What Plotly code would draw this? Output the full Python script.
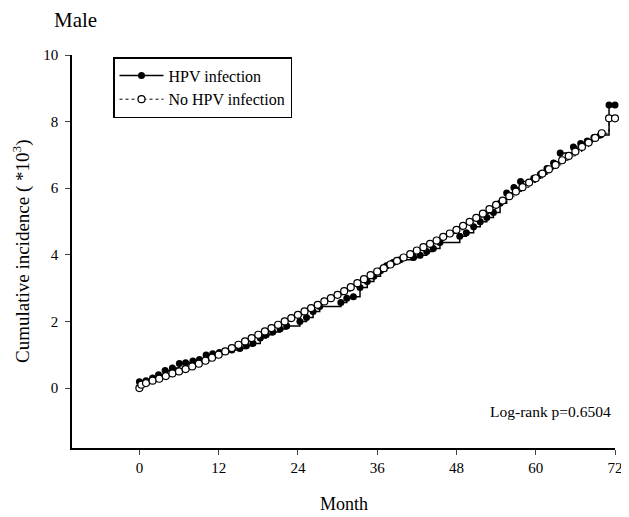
import plotly.graph_objects as go

# HPV infection (event times, cumulative incidence *10^3)
hpv_month = [0, 1, 2, 2.9, 3.9, 5, 6.05, 7, 8.1, 9.1, 10.1, 11.1, 12.1, 13, 14,
             15.2, 16.2, 17.2, 18.3, 19.2, 20.2, 21.3, 22.3, 24.3, 25.3, 26.3, 27.3,
             30.5, 31.4, 32.4, 33.4, 34.5, 35.5, 36.5, 37.4, 38.4, 39.5, 41.5, 42.5,
             43.5, 44.5, 45.5, 48.5, 49.5, 50.6, 51.6, 52.6, 53.6, 54.6, 55.6, 56.7,
             57.7, 59.7, 60.7, 61.7, 62.7, 63.7, 65.7, 66.8, 67.8, 68.8, 69.8, 71.1, 72]
hpv_value = [0.19, 0.22, 0.3, 0.4, 0.53, 0.6, 0.74, 0.76, 0.81, 0.86, 0.99, 1.03, 1.07, 1.1, 1.14,
             1.19, 1.27, 1.34, 1.5, 1.6, 1.68, 1.77, 1.86, 2.0, 2.12, 2.3, 2.45,
             2.57, 2.7, 2.74, 3.02, 3.2, 3.36, 3.52, 3.67, 3.77, 3.85, 3.92, 3.99,
             4.1, 4.19, 4.37, 4.56, 4.66, 4.84, 4.99, 5.12, 5.27, 5.55, 5.86, 6.02,
             6.2, 6.3, 6.42, 6.59, 6.76, 7.06, 7.24, 7.34, 7.42, 7.52, 7.6, 8.5, 8.5]

# No HPV infection
nohpv_month = [0, 0.3, 1, 2, 3, 4, 5, 6, 7, 8, 9, 10, 11, 12, 13, 14, 15, 16, 17, 18, 19, 20,
               21, 22, 23, 24, 25, 26, 27, 28, 29, 30, 31, 32, 33, 34, 35, 36, 37, 38, 39,
               40, 41, 42, 43, 44, 45, 46, 47, 48, 49, 50, 51, 52, 53, 54, 55, 56, 57, 58,
               59, 60, 61, 62, 63, 64, 65, 66, 67, 68, 69, 70, 71.1, 72]
nohpv_value = [0.0, 0.1, 0.15, 0.22, 0.28, 0.36, 0.44, 0.5, 0.57, 0.65, 0.73, 0.82, 0.91, 1.0,
               1.1, 1.2, 1.3, 1.4, 1.5, 1.6, 1.7, 1.8, 1.9, 2.0, 2.1, 2.2, 2.3, 2.4, 2.5,
               2.6, 2.7, 2.8, 2.91, 3.03, 3.15, 3.27, 3.39, 3.5, 3.6, 3.71, 3.82, 3.92,
               4.02, 4.13, 4.23, 4.33, 4.43, 4.54, 4.64, 4.75, 4.87, 4.99, 5.11, 5.24,
               5.37, 5.5, 5.63, 5.76, 5.9, 6.03, 6.17, 6.3, 6.44, 6.57, 6.7, 6.84, 6.97,
               7.1, 7.24, 7.37, 7.51, 7.65, 8.1, 8.1]

x_ticks = [0, 12, 24, 36, 48, 60, 72]
y_ticks = [0, 2, 4, 6, 8, 10]

FONT = "Liberation Serif"
OFF = 8  # page body margin
W, H = 629, 517
# plot area in screen pixels: x 72..615, y 55..448
L, T = 72 - OFF, 55 - OFF
R, B = W - (615 - OFF), H - (448 - OFF)
PW, PH = W - L - R, H - T - B

def px_x(p):
    return (p - OFF - L) / PW

def px_y(p):
    return 1 - (p - OFF - T) / PH

fig = go.Figure()
fig.add_trace(go.Scatter(
    x=hpv_month, y=hpv_value, mode="lines+markers", name="HPV infection",
    line=dict(color="black", width=1.5, shape="hv"),
    marker=dict(symbol="circle", size=7, color="black"),
    cliponaxis=False,
))
fig.add_trace(go.Scatter(
    x=nohpv_month, y=nohpv_value, mode="lines+markers", name="No HPV infection",
    line=dict(color="black", width=1, shape="hv", dash="dot"),
    marker=dict(symbol="circle", size=7, color="white", line=dict(color="black", width=1.2)),
    cliponaxis=False,
))

fig.update_layout(
    width=W, height=H,
    margin=dict(l=L, r=R, t=T, b=B),
    paper_bgcolor="white", plot_bgcolor="white",
    font=dict(family=FONT, size=15, color="black"),
    showlegend=True,
    legend=dict(x=px_x(113), y=px_y(57), xanchor="left", yanchor="top",
                bordercolor="black", borderwidth=1.5, bgcolor="white",
                font=dict(family=FONT, size=16), itemwidth=44),
    xaxis=dict(range=[-10.2, 72], tickvals=x_ticks, ticks="outside", ticklen=5,
               tickwidth=1.2, showline=True, linecolor="black", linewidth=1.5,
               showgrid=False, zeroline=False, tickfont=dict(size=15)),
    yaxis=dict(range=[-1.8, 10], tickvals=y_ticks, ticks="outside", ticklen=5,
               tickwidth=1.2, showline=True, linecolor="black", linewidth=1.5,
               showgrid=False, zeroline=False, tickfont=dict(size=15),
               ticklabelstandoff=4),
    annotations=[
        dict(text="Male", x=px_x(52), y=px_y(20), xref="paper", yref="paper",
             showarrow=False, font=dict(size=21), xanchor="left", yanchor="middle"),
        dict(text="Cumulative incidence ( *10<sup>3</sup>)", x=px_x(21), y=px_y(251),
             xref="paper", yref="paper", showarrow=False, textangle=-90,
             font=dict(size=19), xanchor="center", yanchor="middle"),
        dict(text="Month", x=0.5, y=px_y(504), xref="paper", yref="paper",
             showarrow=False, font=dict(size=18), xanchor="center", yanchor="middle"),
        dict(text="Log-rank p=0.6504", x=px_x(613), y=px_y(411), xref="paper", yref="paper",
             showarrow=False, font=dict(size=15.5), xanchor="right", yanchor="middle"),
    ],
)

fig.write_html("out.html")
